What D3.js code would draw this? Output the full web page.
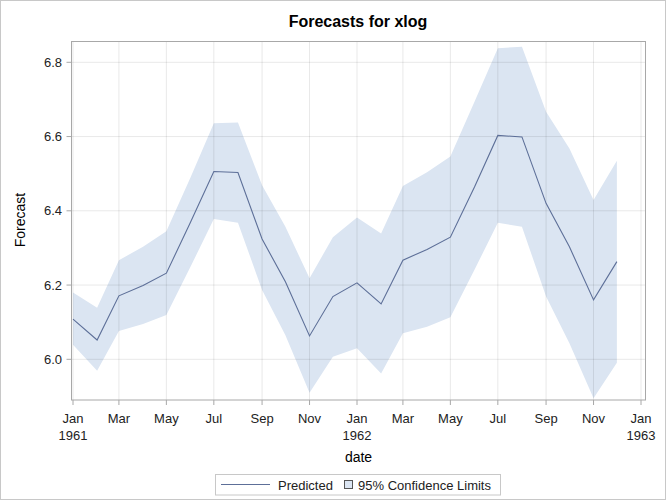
<!DOCTYPE html>
<html><head><meta charset="utf-8">
<script src="https://cdn.jsdelivr.net/npm/d3@7"></script>
<style>body{margin:0;background:#fff;} svg{display:block;font-family:"Liberation Sans",Arial,sans-serif;}</style>
</head><body>
<svg id="c" width="666" height="500"></svg>
<script>
const months = ["1961-01","1961-02","1961-03","1961-04","1961-05","1961-06","1961-07","1961-08","1961-09","1961-10","1961-11","1961-12",
"1962-01","1962-02","1962-03","1962-04","1962-05","1962-06","1962-07","1962-08","1962-09","1962-10","1962-11","1962-12"];
const predicted = [6.108,6.052,6.171,6.199,6.232,6.369,6.506,6.503,6.324,6.209,6.063,6.169,
6.206,6.149,6.267,6.296,6.329,6.464,6.603,6.599,6.420,6.303,6.160,6.263];
const upper = [6.180,6.139,6.267,6.303,6.345,6.490,6.636,6.638,6.469,6.357,6.218,6.329,
6.382,6.339,6.467,6.504,6.546,6.694,6.838,6.842,6.667,6.568,6.429,6.535];
const lower = [6.039,5.969,6.076,6.095,6.119,6.249,6.378,6.368,6.187,6.065,5.910,6.007,
6.030,5.962,6.070,6.088,6.113,6.241,6.368,6.357,6.169,6.043,5.895,5.991];
const yTicks = [6.0,6.2,6.4,6.6,6.8];
const xTickMonths = ["1961-01","1961-03","1961-05","1961-07","1961-09","1961-11","1962-01","1962-03","1962-05","1962-07","1962-09","1962-11","1963-01"];
const monthNames = ["Jan","Feb","Mar","Apr","May","Jun","Jul","Aug","Sep","Oct","Nov","Dec"];

const parse = d3.timeParse("%Y-%m");
const data = months.map((m,i)=>({d:parse(m),p:predicted[i],u:upper[i],l:lower[i]}));

const svg = d3.select("#c");
const frame = {l:71.5, r:645.5, t:41.5, b:400};
const x = d3.scaleTime().domain([parse("1961-01"),parse("1963-01")]).range([73,641]);
const y = d3.scaleLinear().domain([6.0,6.8]).range([359.3,62.3]);

// outer border
svg.append("rect").attr("x",0.5).attr("y",0.5).attr("width",665).attr("height",499)
  .attr("fill","#fff").attr("stroke","#c8c8c8");

// band
svg.append("path").datum(data)
  .attr("d", d3.area().x(d=>x(d.d)).y0(d=>y(d.l)).y1(d=>y(d.u)))
  .attr("fill","#dbe5f2");

// gridlines
const g = svg.append("g");
yTicks.forEach(v=>{
  g.append("line").attr("x1",frame.l).attr("x2",frame.r).attr("y1",y(v)).attr("y2",y(v))
   .attr("stroke","#000").attr("stroke-opacity",0.09);
});
xTickMonths.forEach(m=>{
  const xx = x(parse(m));
  g.append("line").attr("x1",xx).attr("x2",xx).attr("y1",frame.t).attr("y2",frame.b)
   .attr("stroke","#000").attr("stroke-opacity",0.09);
});

// predicted line
svg.append("path").datum(data)
  .attr("d", d3.line().x(d=>x(d.d)).y(d=>y(d.p)))
  .attr("fill","none").attr("stroke","#5d6f98").attr("stroke-width",1.1);

// frame
svg.append("rect").attr("x",frame.l).attr("y",frame.t).attr("width",frame.r-frame.l).attr("height",frame.b-frame.t)
  .attr("fill","none").attr("stroke","#a8a8a8");

// y axis ticks
yTicks.forEach(v=>{
  svg.append("line").attr("x1",frame.l-5).attr("x2",frame.l).attr("y1",y(v)).attr("y2",y(v)).attr("stroke","#a8a8a8");
  svg.append("text").attr("x",62).attr("y",y(v)+4.5).attr("text-anchor","end")
    .attr("font-size",13).attr("fill","#222").text(v.toFixed(1));
});
// x axis ticks
xTickMonths.forEach(m=>{
  const dt = parse(m), xx = x(dt);
  svg.append("line").attr("x1",xx).attr("x2",xx).attr("y1",frame.b).attr("y2",frame.b+5).attr("stroke","#a8a8a8");
  svg.append("text").attr("x",xx).attr("y",423).attr("text-anchor","middle")
    .attr("font-size",13).attr("fill","#222").text(monthNames[dt.getMonth()]);
  if (dt.getMonth()===0)
    svg.append("text").attr("x",xx).attr("y",440).attr("text-anchor","middle")
      .attr("font-size",13).attr("fill","#222").text(dt.getFullYear());
});

// titles
svg.append("text").attr("x",358).attr("y",27).attr("text-anchor","middle")
  .attr("font-size",16).attr("font-weight","bold").attr("fill","#000").text("Forecasts for xlog");
svg.append("text").attr("x",358.5).attr("y",462).attr("text-anchor","middle")
  .attr("font-size",14).attr("fill","#000").text("date");
svg.append("text").attr("transform","translate(25,220) rotate(-90)").attr("text-anchor","middle")
  .attr("font-size",14).attr("fill","#000").text("Forecast");

// legend
const lg = svg.append("g");
lg.append("rect").attr("x",215.5).attr("y",474.5).attr("width",285).attr("height",20.5)
  .attr("fill","#fff").attr("stroke","#c8c8c8");
lg.append("line").attr("x1",221).attr("x2",270).attr("y1",484.5).attr("y2",484.5)
  .attr("stroke","#5d6f98").attr("stroke-width",1.1);
lg.append("text").attr("x",278).attr("y",489.5).attr("font-size",13).attr("fill","#222").text("Predicted");
lg.append("rect").attr("x",344.5).attr("y",480.5).attr("width",8).attr("height",8)
  .attr("fill","#dbe5f2").attr("stroke","#555");
lg.append("text").attr("x",358).attr("y",489.5).attr("font-size",13).attr("fill","#222").text("95% Confidence Limits");
</script>
</body></html>
